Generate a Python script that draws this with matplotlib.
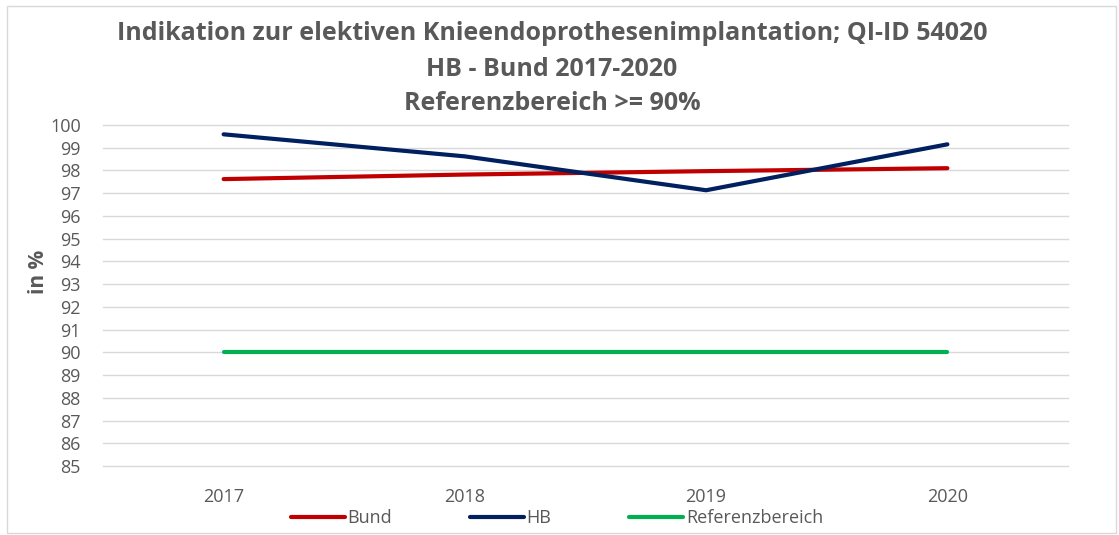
"""QI-ID 54020 Verlaufsdiagramm HB vs. Bund"""

import matplotlib
matplotlib.use('Agg')
import matplotlib.pyplot as plt
from matplotlib.patches import Rectangle

plt.rcParams['font.family'] = ['Open Sans', 'DejaVu Sans']

jahre = ['2017', '2018', '2019', '2020']
bund = [97.62, 97.82, 97.97, 98.10]
hb = [99.59, 98.62, 97.13, 99.15]
referenz = [90, 90, 90, 90]
y_ticks = list(range(85, 101))

grau = '#595959'

fig = plt.figure(figsize=(11.19, 5.35), dpi=100)
ax = fig.add_axes([103 / 1119, 69 / 535, (1068 - 103) / 1119, (466 - 125) / 535])

x = range(len(jahre))
ax.plot(x, bund, color='#C00000', lw=3, solid_capstyle='round', label='Bund', zorder=3)
ax.plot(x, hb, color='#002060', lw=3, solid_capstyle='round', label='HB', zorder=3)
ax.plot(x, referenz, color='#00B050', lw=3, solid_capstyle='round', label='Referenzbereich', zorder=3)

ax.set_xlim(-0.5, len(jahre) - 0.5)
ax.set_ylim(85, 100)
ax.set_xticks(list(x))
ax.set_xticklabels(jahre)
ax.set_yticks(y_ticks)
ax.tick_params(axis='both', length=0, labelsize=13, labelcolor=grau)
ax.tick_params(axis='x', pad=16)
ax.tick_params(axis='y', pad=16)
ax.grid(axis='y', color='#D9D9D9', lw=1)
for gl in ax.get_ygridlines():
    gl.set_clip_on(False)
ax.set_axisbelow(True)
for s in ax.spines.values():
    s.set_visible(False)

fig.text(38 / 1119, 1 - 272 / 535, 'in %', rotation=90, ha='center', va='center',
         fontsize=15, fontweight='bold', color=grau)

# Titel (3 Zeilen)
titel = ['Indikation zur elektiven Knieendoprothesenimplantation; QI-ID 54020',
         'HB - Bund 2017-2020',
         'Referenzbereich >= 90%']
for i, t in enumerate(titel):
    fig.text(552 / 1119, 1 - (34 + 35 * i) / 535, t, ha='center', va='center',
             fontsize=18, fontweight='bold', color=grau)

fig.legend(loc='center', bbox_to_anchor=(557 / 1119, 1 - 518 / 535), ncol=3,
           frameon=False, fontsize=13, labelcolor=grau, handlelength=3.0,
           handletextpad=0.15, columnspacing=4.3)

# Rahmen um das Diagramm
fig.patches.append(Rectangle((7 / 1119, 2 / 535), 1109 / 1119, 527 / 535,
                             transform=fig.transFigure, fill=False,
                             edgecolor='#D9D9D9', lw=1))

fig.savefig('out.png', dpi=100)
